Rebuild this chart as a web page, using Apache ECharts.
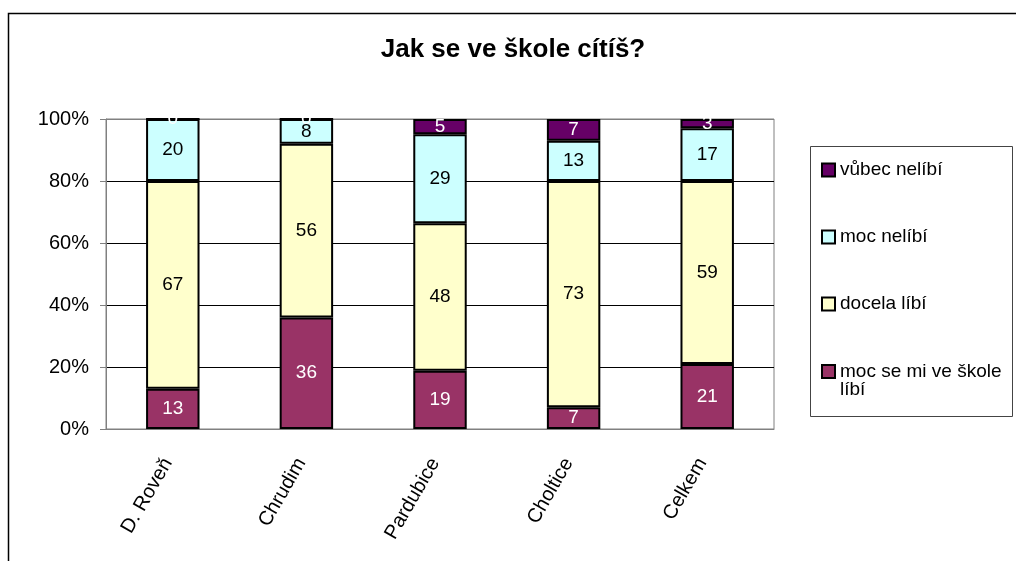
<!DOCTYPE html>
<html>
<head>
<meta charset="utf-8">
<script src="https://cdn.jsdelivr.net/npm/echarts@6/dist/echarts.min.js"></script>
<style>
  html, body { margin: 0; padding: 0; background: #fff; }
  #chart { width: 1016px; height: 561px; }
</style>
</head>
<body>
<div id="chart"></div>
<script>
// data (counts per school, shown as 100% stacks)
var categories = ['D. Roveň', 'Chrudim', 'Pardubice', 'Choltice', 'Celkem'];
var mocLibi = [13, 36, 19, 7, 21];
var docelaLibi = [67, 56, 48, 73, 59];
var mocNelibi = [20, 8, 29, 13, 17];
var vubecNelibi = [0, 0, 5, 7, 3];
var seriesNames = ['moc se mi ve škole líbí', 'docela líbí', 'moc nelíbí', 'vůbec nelíbí'];
var yTicks = ['0%', '20%', '40%', '60%', '80%', '100%'];

var rows = [mocLibi, docelaLibi, mocNelibi, vubecNelibi];
var colors = ['#993366', '#FFFFCC', '#CCFFFF', '#660066'];
var labelColors = ['#fff', '#000', '#000', '#fff'];

// sums per category -> percentage stack
var totals = categories.map(function (c, i) {
    var s = 0;
    rows.forEach(function (r) { s += r[i]; });
    return s;
});

var font = 'Liberation Sans, Arial, sans-serif';

var series = rows.map(function (r, k) {
    return {
        name: seriesNames[k],
        type: 'bar',
        stack: 'all',
        barWidth: '40%',
        itemStyle: { color: colors[k], borderColor: '#000', borderWidth: 2 },
        label: {
            show: true,
            position: 'inside',
            color: labelColors[k],
            fontFamily: font,
            fontSize: 19,
            formatter: function (p) { return p.data.raw; }
        },
        data: r.map(function (v, i) {
            return { value: v / totals[i] * 100, raw: v };
        })
    };
});

var myChart = echarts.init(document.getElementById('chart'));
var options = {
    animation: false,
    backgroundColor: '#fff',
    title: {
        text: 'Jak se ve škole cítíš?',
        left: 508,
        top: 32,
        textAlign: 'center',
        textStyle: { fontFamily: font, fontSize: 26, fontWeight: 'bold', color: '#000' }
    },
    grid: { left: 106, right: 242, top: 119, bottom: 132, show: true, borderColor: '#808080', borderWidth: 1 },
    xAxis: {
        type: 'category',
        data: categories,
        axisLine: { lineStyle: { color: '#808080' } },
        axisTick: { length: 5, lineStyle: { color: '#808080' } },
        axisLabel: { rotate: 60, margin: 22, padding: [0, 10, 0, 0], color: '#000', fontFamily: font, fontSize: 20 }
    },
    yAxis: {
        type: 'value',
        min: 0,
        max: 100,
        interval: 20,
        axisLine: { show: true, lineStyle: { color: '#808080' } },
        axisTick: { show: true, length: 6, lineStyle: { color: '#808080' } },
        axisLabel: {
            margin: 17,
            color: '#000',
            fontFamily: font,
            fontSize: 20,
            formatter: function (v) { return yTicks[v / 20]; }
        },
        splitLine: { lineStyle: { color: ['#808080', '#000', '#000', '#000', '#000', '#808080'] } }
    },
    legend: [{
        orient: 'vertical',
        left: 821,
        top: 159,
        padding: 0,
        itemWidth: 13,
        itemHeight: 13,
        itemGap: 45,
        icon: 'rect',
        itemStyle: { borderColor: '#000', borderWidth: 2 },
        textStyle: { fontFamily: font, fontSize: 19, lineHeight: 22, color: '#000' },
        data: ['vůbec nelíbí', 'moc nelíbí', 'docela líbí']
    }, {
        orient: 'vertical',
        left: 821,
        top: 344,
        padding: 0,
        itemWidth: 13,
        itemHeight: 13,
        icon: 'rect',
        itemStyle: { borderColor: '#000', borderWidth: 2 },
        textStyle: { fontFamily: font, fontSize: 19, lineHeight: 18, color: '#000' },
        // blank first line keeps the icon beside the first text line
        formatter: function (n) { return ' \nmoc se mi ve škole\nlíbí'; },
        data: ['moc se mi ve škole líbí']
    }],
    graphic: [
        { type: 'rect', shape: { x: 8.5, y: 13.5, width: 1100, height: 700 }, style: { fill: null, stroke: '#000', lineWidth: 1.5 }, silent: true },
        { type: 'rect', shape: { x: 810.5, y: 146.5, width: 202, height: 270 }, style: { fill: null, stroke: '#444', lineWidth: 1 }, silent: true }
    ],
    series: series
};
myChart.setOption(options);
</script>
</body>
</html>
